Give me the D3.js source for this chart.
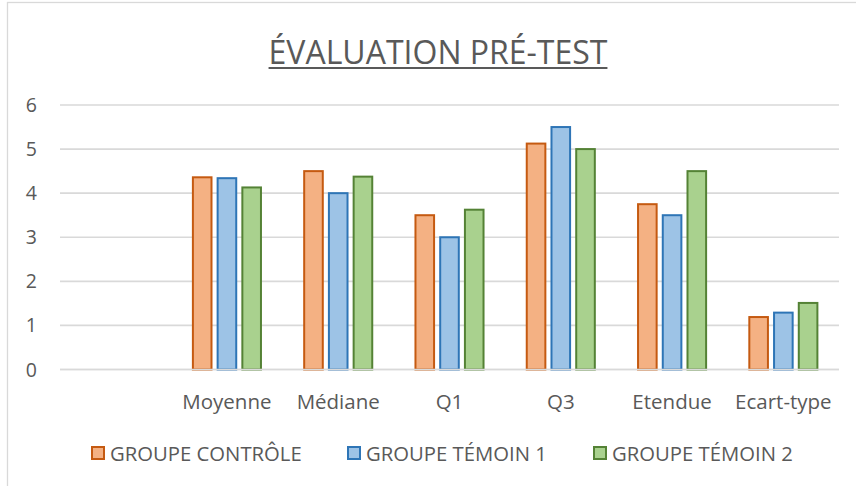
<!DOCTYPE html>
<html>
<head>
<meta charset="utf-8">
<script src="https://cdn.jsdelivr.net/npm/d3@7"></script>
<style>
  html, body { margin: 0; padding: 0; background: #fff; }
  svg { display: block; }
  text { font-family: 'Open Sans', sans-serif; fill: #595959; }
</style>
</head>
<body>
<svg id="chart" width="856" height="486"></svg>
<script>
const title = "ÉVALUATION PRÉ-TEST";
const categories = ["", "Moyenne", "Médiane", "Q1", "Q3", "Etendue", "Ecart-type"];
const seriesNames = ["GROUPE CONTRÔLE", "GROUPE TÉMOIN 1", "GROUPE TÉMOIN 2"];
const controle = [null, 4.36, 4.5, 3.5, 5.125, 3.75, 1.19];
const temoin1  = [null, 4.34, 4.0, 3.0, 5.5, 3.5, 1.29];
const temoin2  = [null, 4.13, 4.375, 3.625, 5.0, 4.5, 1.51];
const yTicks = [0, 1, 2, 3, 4, 5, 6];

const seriesValues = [controle, temoin1, temoin2];
const fills = ["#F4B183", "#9DC3E6", "#A9D18E"];
const strokes = ["#C55A11", "#2E75B6", "#548235"];

const svg = d3.select("#chart");

// chart frame
svg.append("rect")
  .attr("x", 7.5).attr("y", 2.5)
  .attr("width", 1000).attr("height", 1000)
  .attr("fill", "#fff").attr("stroke", "#D9D9D9").attr("stroke-width", 1.3);

const plotLeft = 60, plotRight = 839, plotTop = 105, plotBottom = 369.5;

const x0 = d3.scaleBand().domain(categories).range([plotLeft, plotRight]).paddingInner(0).paddingOuter(0);
const y = d3.scaleLinear().domain([0, 6]).range([plotBottom, plotTop]);

// gridlines
svg.append("g").selectAll("line").data(yTicks).join("line")
  .attr("x1", plotLeft).attr("x2", plotRight)
  .attr("y1", d => y(d)).attr("y2", d => y(d))
  .attr("stroke", "#D9D9D9").attr("stroke-width", 1.6);

// y tick labels
svg.append("g").selectAll("text").data(yTicks).join("text")
  .attr("x", 37).attr("y", d => y(d))
  .attr("dy", "0.36em")
  .attr("text-anchor", "end")
  .style("font-size", "19.5px")
  .text(d => d);

// bars
const groupW = x0.bandwidth() * 3.4 / 5.4;
const x1 = d3.scaleBand().domain(d3.range(seriesNames.length)).range([0, groupW]).paddingInner(1/6).paddingOuter(0);

const groups = svg.append("g").selectAll("g").data(categories).join("g")
  .attr("transform", c => `translate(${x0(c) + (x0.bandwidth() - groupW) / 2},0)`);

groups.selectAll("rect")
  .data((c, i) => seriesValues.map((s, k) => ({k, v: s[i]})).filter(d => d.v != null))
  .join("rect")
  .attr("x", d => x1(d.k) + 1)
  .attr("width", x1.bandwidth() - 2)
  .attr("y", d => y(d.v))
  .attr("height", d => y(0) - y(d.v))
  .attr("fill", d => fills[d.k])
  .attr("stroke", d => strokes[d.k])
  .attr("stroke-width", 2);

// redraw baseline over bars
svg.append("line")
  .attr("x1", plotLeft).attr("x2", plotRight)
  .attr("y1", y(0)).attr("y2", y(0))
  .attr("stroke", "#D9D9D9").attr("stroke-width", 1.6);

// category labels
svg.append("g").selectAll("text").data(categories).join("text")
  .attr("x", c => x0(c) + x0.bandwidth() / 2)
  .attr("y", 409)
  .attr("text-anchor", "middle")
  .style("font-size", "20.5px")
  .text(c => c);

// title
const t = svg.append("text")
  .attr("x", 438).attr("y", 63.5)
  .attr("text-anchor", "middle")
  .style("font-size", "32px")
  .text(title);
const tw = t.node().getComputedTextLength();
svg.append("line")
  .attr("x1", 438 - tw / 2).attr("x2", 438 + tw / 2)
  .attr("y1", 68).attr("y2", 68)
  .attr("stroke", "#595959").attr("stroke-width", 1.8);

// legend
const legendX = [91, 347, 593];
const lg = svg.append("g").selectAll("g").data(seriesNames).join("g")
  .attr("transform", (d, i) => `translate(${legendX[i]},446)`);
lg.append("rect")
  .attr("x", 1).attr("y", 1).attr("width", 12).attr("height", 12)
  .attr("fill", (d, i) => fills[i]).attr("stroke", (d, i) => strokes[i]).attr("stroke-width", 2);
lg.append("text")
  .attr("x", 19).attr("y", 14.5)
  .style("font-size", "20.3px")
  .text(d => d);
</script>
</body>
</html>
